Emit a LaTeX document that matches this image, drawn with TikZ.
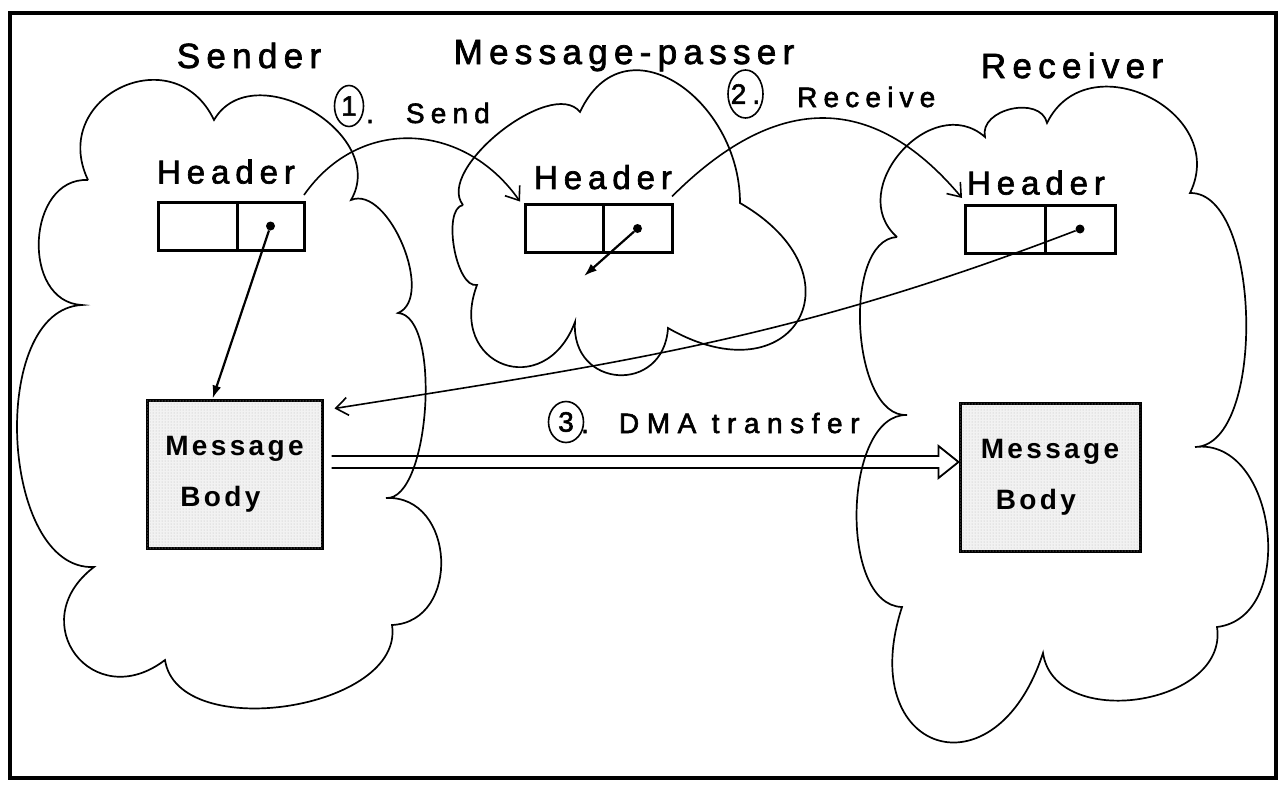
\documentclass[tikz,border=0pt]{standalone}
\usepackage{fontspec}
\setmainfont{Liberation Sans}
\newfontfamily\lblfont[LetterSpace=18, FakeBold=2]{Liberation Sans}
\newfontfamily\actfont[LetterSpace=22, FakeBold=2]{Liberation Sans}
\newfontfamily\bodyfont[LetterSpace=12]{Liberation Sans}
\usetikzlibrary{positioning,arrows.meta,calc,shapes.geometric,patterns}

\begin{document}
\begin{tikzpicture}[
      x=1pt, y=-1pt,
      title/.style={font=\lblfont\fontsize{35}{40}\selectfont, inner sep=0pt, anchor=base},
      act/.style={font=\actfont\fontsize{28}{32}\selectfont, inner sep=0pt, anchor=base west},
      hlbl/.style={font=\lblfont\fontsize{33}{38}\selectfont, inner sep=0pt},
      cell/.style={draw, line width=3pt, minimum height=48pt, inner sep=0pt, outer sep=0pt},
      body/.style={draw, line width=3pt, fill=gray!10, minimum height=148pt, align=left,
                   font=\bodyfont\bfseries\fontsize{28}{51}\selectfont,
                   postaction={pattern=dots, pattern color=gray!55}},
      num/.style={draw, ellipse, line width=1.6pt, inner xsep=-6pt, inner ysep=0pt,
                  font=\actfont\fontsize{28}{32}\selectfont},
      ptdot/.style={circle, fill, inner sep=0pt, minimum size=9pt},
      blob/.style={draw, line width=1.7pt},
      lobe/.style={bend left=90, looseness=#1},
      hop/.style={line width=1.6pt, -{Straight Barb[length=12pt, width=18pt]}},
      ptr/.style={line width=2.2pt, -{Latex[length=13pt, width=9pt]}},
      dma/.style={line width=1.8pt, line join=miter},
    ]
    \useasboundingbox (0,0) rectangle (1281,785);
    \draw[line width=4pt] (10,13) rectangle (1276,778);

    % the three clouds, lobe by lobe
    \draw[blob] (88,180) to[lobe=1.7] (214,120) to[lobe=1.23] (351,200)
      to[lobe=0.85] (398,313) to[lobe=0.61] (386,498) to[lobe=1.4] (392,625)
      to[lobe=0.95] (165,660) to[lobe=1.98] (94,567) to[lobe=0.92] (82,305)
      to[lobe=1.26] (88,180);
    \draw[blob] (463,205) to[lobe=0.78] (580,112) to[out=65, in=90, looseness=1.45] (740,203)
      to[lobe=2.57] (668,328) to[lobe=1.84] (575,322) to[lobe=2.11] (477,285)
      to[lobe=0.68] (463,205);
    \draw[blob] (897,237) to[lobe=1.36] (985,137) to[lobe=1.16] (1047,123)
      to[lobe=1.46] (1190,193) to[lobe=0.72] (1195,447) to[lobe=1.16] (1217,627)
      to[lobe=1.16] (1043,653) to[lobe=2.66] (902,607) to[lobe=0.85] (907,415)
      to[lobe=0.8] (897,237);

    % titles
    \node[title] (tsend) at (249,68) {Sender};
    \node[title] (tpass) at (624,64) {Message-passer};
    \node[title] (trecv) at (1072,78) {Receiver};

    % header records
    \node[cell, minimum width=79pt] (sh1) at (197.5,226) {};
    \node[cell, minimum width=67pt, right=0pt of sh1] (sh2) {};
    \node[cell, minimum width=78pt] (ph1) at (564,228.5) {};
    \node[cell, minimum width=69pt, right=0pt of ph1] (ph2) {};
    \node[cell, minimum width=80pt] (rh1) at (1005,229) {};
    \node[cell, minimum width=70pt, right=0pt of rh1] (rh2) {};
    \node[hlbl, above=18pt of sh1.north east, xshift=-11pt] (shl) {Header};
    \node[hlbl, above=15pt of ph1.north east] (phl) {Header};
    \node[hlbl, above=10pt of rh1.north east, xshift=-9pt] (rhl) {Header};
    \node[ptdot] (sdot) at (sh2.center) {};
    \node[ptdot] (pdot) at (ph2.center) {};
    \node[ptdot] (rdot) at (rh2.center) {};

    % message bodies
    \node[body, minimum width=175pt] (sbody) at (234.5,474) {Message\\\hspace*{15pt}Body};
    \node[body, minimum width=180pt] (rbody) at (1050,477.5) {Message\\\hspace*{15pt}Body};

    % numbered steps
    \node[num, minimum width=29pt, minimum height=41pt] (n1) at (349,106) {1};
    \node[act] (send) at (366,123) {.\hspace{32pt}Send};
    \node[num, minimum width=35pt, minimum height=48pt] (n2) at (745.5,94) {2.};
    \node[act] (recv) at (797,107) {Receive};
    \node[num, minimum width=35pt, minimum height=41pt] (n3) at (566,422) {3};
    \node[act, font=\actfont\addfontfeature{LetterSpace=27}\fontsize{28}{32}\selectfont]
      (xfer) at (581,433) {.\hspace{30pt}DMA transfer};

    % pointers
    \coordinate (ptip) at (584,276);
    \draw[ptr] (sdot) -- ($(sbody.north west)!0.377!(sbody.north east)$);
    \draw[ptr] (pdot) -- (ptip);
    \draw[hop] (rdot) to[out=201, in=9] ($(sbody.north east)+(11,10)$);

    % header hops
    \draw[hop] ([yshift=7pt]sh2.north east) to[out=55, in=125, looseness=1.15]
      ([xshift=-5pt, yshift=3pt]ph1.north west);
    \draw[hop] ([yshift=8pt]ph2.north east) to[out=45, in=130, looseness=1.26]
      ([xshift=-3pt, yshift=7pt]rh1.north west);

    % hollow DMA arrow
    \coordinate (dma) at ($(sbody.east)+(8,-12)$);
    \coordinate (dmatip) at (rbody.west |- dma);
    \draw[dma] ([yshift=6pt]dma) -- ([xshift=-20pt, yshift=6pt]dmatip)
      -- ([xshift=-20pt, yshift=16pt]dmatip) -- (dmatip)
      -- ([xshift=-20pt, yshift=-16pt]dmatip) -- ([xshift=-20pt, yshift=-6pt]dmatip)
      -- ([yshift=-6pt]dma);
\end{tikzpicture}
\end{document}
